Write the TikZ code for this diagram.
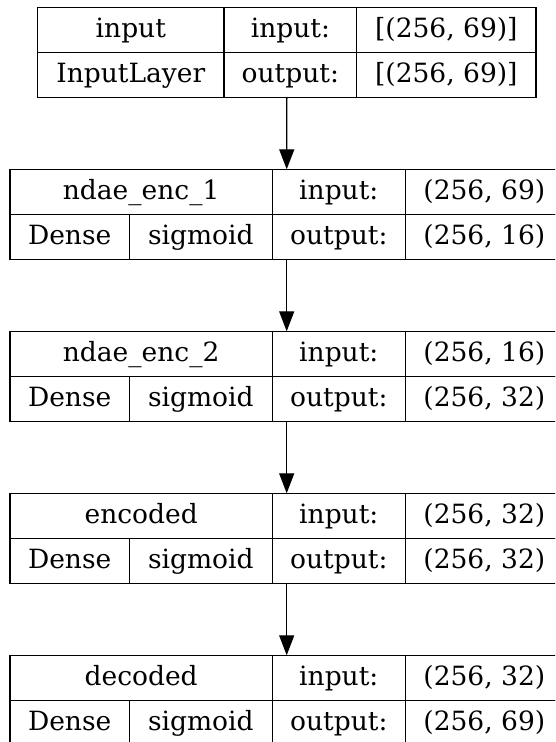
\documentclass[tikz,border=0pt]{standalone}
\usepackage{fontspec}
\setmainfont{DejaVu Serif}
\usetikzlibrary{positioning,fit,arrows.meta}

\tikzset{
  cell/.style={draw, line width=1.3pt, inner sep=0pt, outer sep=0pt,
    minimum height=45pt, text height=21pt, text depth=5.5pt,
    font=\fontsize{26.5}{31}\selectfont},
  layer/.style={inner sep=0pt, outer sep=0pt},
  flow/.style={line width=1.3pt, -{Triangle[length=20pt,width=15pt]}}
}

\begin{document}
\begin{tikzpicture}[x=1pt,y=-1pt]
  \clip (0,0) rectangle (555,742);

  % Input layer
  \node[cell, minimum width=186.3pt, anchor=north west] (input-name) at (37.7,7.3) {input};
  \node[cell, minimum width=132.7pt, right=0pt of input-name] (input-inlbl) {input:};
  \node[cell, minimum width=179.3pt, right=0pt of input-inlbl] (input-inshape) {[(256, 69)]};
  \node[cell, minimum width=186.3pt, below=0pt of input-name] (input-class) {InputLayer};
  \node[cell, minimum width=132.7pt, right=0pt of input-class] (input-outlbl) {output:};
  \node[cell, minimum width=179.3pt, right=0pt of input-outlbl] (input-outshape) {[(256, 69)]};
  \node[layer, fit=(input-name)(input-outshape)] (input) {};

  % First encoder layer
  \node[cell, minimum width=262.3pt, anchor=north west] (enc1-name) at (10,169.3) {ndae\_enc\_1};
  \node[cell, minimum width=133pt, right=0pt of enc1-name] (enc1-inlbl) {input:};
  \node[cell, minimum width=158.1pt, right=0pt of enc1-inlbl] (enc1-inshape) {(256, 69)};
  \node[cell, minimum width=119.3pt, anchor=north west] (enc1-class) at (enc1-name.south west) {Dense};
  \node[cell, minimum width=143pt, right=0pt of enc1-class] (enc1-act) {sigmoid};
  \node[cell, minimum width=133pt, right=0pt of enc1-act] (enc1-outlbl) {output:};
  \node[cell, minimum width=158.1pt, right=0pt of enc1-outlbl] (enc1-outshape) {(256, 16)};
  \node[layer, fit=(enc1-name)(enc1-outshape)] (enc1) {};

  % Second encoder layer
  \node[cell, minimum width=262.3pt, anchor=north west] (enc2-name) at (10,331.3) {ndae\_enc\_2};
  \node[cell, minimum width=133pt, right=0pt of enc2-name] (enc2-inlbl) {input:};
  \node[cell, minimum width=158.1pt, right=0pt of enc2-inlbl] (enc2-inshape) {(256, 16)};
  \node[cell, minimum width=119.3pt, anchor=north west] (enc2-class) at (enc2-name.south west) {Dense};
  \node[cell, minimum width=143pt, right=0pt of enc2-class] (enc2-act) {sigmoid};
  \node[cell, minimum width=133pt, right=0pt of enc2-act] (enc2-outlbl) {output:};
  \node[cell, minimum width=158.1pt, right=0pt of enc2-outlbl] (enc2-outshape) {(256, 32)};
  \node[layer, fit=(enc2-name)(enc2-outshape)] (enc2) {};

  % Bottleneck layer
  \node[cell, minimum width=262.3pt, anchor=north west] (encoded-name) at (10,493.3) {encoded};
  \node[cell, minimum width=133pt, right=0pt of encoded-name] (encoded-inlbl) {input:};
  \node[cell, minimum width=158.1pt, right=0pt of encoded-inlbl] (encoded-inshape) {(256, 32)};
  \node[cell, minimum width=119.3pt, anchor=north west] (encoded-class) at (encoded-name.south west) {Dense};
  \node[cell, minimum width=143pt, right=0pt of encoded-class] (encoded-act) {sigmoid};
  \node[cell, minimum width=133pt, right=0pt of encoded-act] (encoded-outlbl) {output:};
  \node[cell, minimum width=158.1pt, right=0pt of encoded-outlbl] (encoded-outshape) {(256, 32)};
  \node[layer, fit=(encoded-name)(encoded-outshape)] (encoded) {};

  % Output layer
  \node[cell, minimum width=262.3pt, anchor=north west] (decoded-name) at (10,655.3) {decoded};
  \node[cell, minimum width=133pt, right=0pt of decoded-name] (decoded-inlbl) {input:};
  \node[cell, minimum width=158.1pt, right=0pt of decoded-inlbl] (decoded-inshape) {(256, 32)};
  \node[cell, minimum width=119.3pt, anchor=north west] (decoded-class) at (decoded-name.south west) {Dense};
  \node[cell, minimum width=143pt, right=0pt of decoded-class] (decoded-act) {sigmoid};
  \node[cell, minimum width=133pt, right=0pt of decoded-act] (decoded-outlbl) {output:};
  \node[cell, minimum width=158.1pt, right=0pt of decoded-outlbl] (decoded-outshape) {(256, 69)};
  \node[layer, fit=(decoded-name)(decoded-outshape)] (decoded) {};

  % Data flow
  \draw[flow] (input.south) -- (enc1.north);
  \draw[flow] (enc1.south) -- (enc2.north);
  \draw[flow] (enc2.south) -- (encoded.north);
  \draw[flow] (encoded.south) -- (decoded.north);
\end{tikzpicture}
\end{document}
